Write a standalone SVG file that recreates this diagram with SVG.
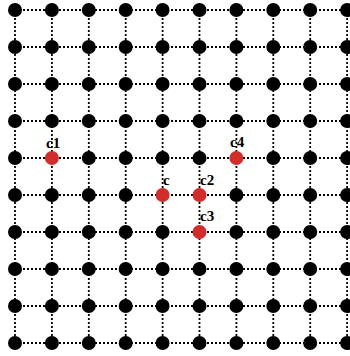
<svg xmlns="http://www.w3.org/2000/svg" width="350" height="356" viewBox="0 0 350 356">
<style>
.e{stroke:#000;stroke-width:1.8;stroke-dasharray:2 2;fill:none}
.d{fill:#000}
.r{fill:#d42b2b}
.t{font-family:"Liberation Serif","DejaVu Serif",serif;font-weight:bold;font-size:15px;fill:#000}
</style>
<rect width="350" height="356" fill="#fff"/>
<g id="connectors">
<line class="e" x1="15" y1="10" x2="350" y2="10"/>
<line class="e" x1="15" y1="47" x2="350" y2="47"/>
<line class="e" x1="15" y1="84" x2="350" y2="84"/>
<line class="e" x1="15" y1="121" x2="350" y2="121"/>
<line class="e" x1="15" y1="158" x2="350" y2="158"/>
<line class="e" x1="15" y1="195" x2="350" y2="195"/>
<line class="e" x1="15" y1="232" x2="350" y2="232"/>
<line class="e" x1="15" y1="269" x2="350" y2="269"/>
<line class="e" x1="15" y1="306" x2="350" y2="306"/>
<line class="e" x1="15" y1="343" x2="350" y2="343"/>
<line class="e" x1="15" y1="10" x2="15" y2="343"/>
<line class="e" x1="51.9" y1="10" x2="51.9" y2="343"/>
<line class="e" x1="88.8" y1="10" x2="88.8" y2="343"/>
<line class="e" x1="125.7" y1="10" x2="125.7" y2="343"/>
<line class="e" x1="162.6" y1="10" x2="162.6" y2="343"/>
<line class="e" x1="199.5" y1="10" x2="199.5" y2="343"/>
<line class="e" x1="236.4" y1="10" x2="236.4" y2="343"/>
<line class="e" x1="273.3" y1="10" x2="273.3" y2="343"/>
<line class="e" x1="310.2" y1="10" x2="310.2" y2="343"/>
<line class="e" x1="347.1" y1="10" x2="347.1" y2="343"/>
</g>
<g id="nodes">
<g id="n0-0"><circle class="d" cx="15" cy="10" r="7"/></g>
<g id="n0-1"><circle class="d" cx="51.9" cy="10" r="7"/></g>
<g id="n0-2"><circle class="d" cx="88.8" cy="10" r="7"/></g>
<g id="n0-3"><circle class="d" cx="125.7" cy="10" r="7"/></g>
<g id="n0-4"><circle class="d" cx="162.6" cy="10" r="7"/></g>
<g id="n0-5"><circle class="d" cx="199.5" cy="10" r="7"/></g>
<g id="n0-6"><circle class="d" cx="236.4" cy="10" r="7"/></g>
<g id="n0-7"><circle class="d" cx="273.3" cy="10" r="7"/></g>
<g id="n0-8"><circle class="d" cx="310.2" cy="10" r="7"/></g>
<g id="n0-9"><circle class="d" cx="347.1" cy="10" r="7"/></g>
<g id="n1-0"><circle class="d" cx="15" cy="47" r="7"/></g>
<g id="n1-1"><circle class="d" cx="51.9" cy="47" r="7"/></g>
<g id="n1-2"><circle class="d" cx="88.8" cy="47" r="7"/></g>
<g id="n1-3"><circle class="d" cx="125.7" cy="47" r="7"/></g>
<g id="n1-4"><circle class="d" cx="162.6" cy="47" r="7"/></g>
<g id="n1-5"><circle class="d" cx="199.5" cy="47" r="7"/></g>
<g id="n1-6"><circle class="d" cx="236.4" cy="47" r="7"/></g>
<g id="n1-7"><circle class="d" cx="273.3" cy="47" r="7"/></g>
<g id="n1-8"><circle class="d" cx="310.2" cy="47" r="7"/></g>
<g id="n1-9"><circle class="d" cx="347.1" cy="47" r="7"/></g>
<g id="n2-0"><circle class="d" cx="15" cy="84" r="7"/></g>
<g id="n2-1"><circle class="d" cx="51.9" cy="84" r="7"/></g>
<g id="n2-2"><circle class="d" cx="88.8" cy="84" r="7"/></g>
<g id="n2-3"><circle class="d" cx="125.7" cy="84" r="7"/></g>
<g id="n2-4"><circle class="d" cx="162.6" cy="84" r="7"/></g>
<g id="n2-5"><circle class="d" cx="199.5" cy="84" r="7"/></g>
<g id="n2-6"><circle class="d" cx="236.4" cy="84" r="7"/></g>
<g id="n2-7"><circle class="d" cx="273.3" cy="84" r="7"/></g>
<g id="n2-8"><circle class="d" cx="310.2" cy="84" r="7"/></g>
<g id="n2-9"><circle class="d" cx="347.1" cy="84" r="7"/></g>
<g id="n3-0"><circle class="d" cx="15" cy="121" r="7"/></g>
<g id="n3-1"><circle class="d" cx="51.9" cy="121" r="7"/></g>
<g id="n3-2"><circle class="d" cx="88.8" cy="121" r="7"/></g>
<g id="n3-3"><circle class="d" cx="125.7" cy="121" r="7"/></g>
<g id="n3-4"><circle class="d" cx="162.6" cy="121" r="7"/></g>
<g id="n3-5"><circle class="d" cx="199.5" cy="121" r="7"/></g>
<g id="n3-6"><circle class="d" cx="236.4" cy="121" r="7"/></g>
<g id="n3-7"><circle class="d" cx="273.3" cy="121" r="7"/></g>
<g id="n3-8"><circle class="d" cx="310.2" cy="121" r="7"/></g>
<g id="n3-9"><circle class="d" cx="347.1" cy="121" r="7"/></g>
<g id="n4-0"><circle class="d" cx="15" cy="158" r="7"/></g>
<g id="c1"><circle class="r" cx="51.9" cy="158" r="7"/><text class="t" x="46" y="148">c1</text></g>
<g id="n4-2"><circle class="d" cx="88.8" cy="158" r="7"/></g>
<g id="n4-3"><circle class="d" cx="125.7" cy="158" r="7"/></g>
<g id="n4-4"><circle class="d" cx="162.6" cy="158" r="7"/></g>
<g id="n4-5"><circle class="d" cx="199.5" cy="158" r="7"/></g>
<g id="c4"><circle class="r" cx="236.4" cy="158" r="7"/><text class="t" x="230" y="147">c4</text></g>
<g id="n4-7"><circle class="d" cx="273.3" cy="158" r="7"/></g>
<g id="n4-8"><circle class="d" cx="310.2" cy="158" r="7"/></g>
<g id="n4-9"><circle class="d" cx="347.1" cy="158" r="7"/></g>
<g id="n5-0"><circle class="d" cx="15" cy="195" r="7"/></g>
<g id="n5-1"><circle class="d" cx="51.9" cy="195" r="7"/></g>
<g id="n5-2"><circle class="d" cx="88.8" cy="195" r="7"/></g>
<g id="n5-3"><circle class="d" cx="125.7" cy="195" r="7"/></g>
<g id="c"><circle class="r" cx="162.6" cy="195" r="7"/><text class="t" x="163" y="185">c</text></g>
<g id="c2"><circle class="r" cx="199.5" cy="195" r="7"/><text class="t" x="200" y="185">c2</text></g>
<g id="n5-6"><circle class="d" cx="236.4" cy="195" r="7"/></g>
<g id="n5-7"><circle class="d" cx="273.3" cy="195" r="7"/></g>
<g id="n5-8"><circle class="d" cx="310.2" cy="195" r="7"/></g>
<g id="n5-9"><circle class="d" cx="347.1" cy="195" r="7"/></g>
<g id="n6-0"><circle class="d" cx="15" cy="232" r="7"/></g>
<g id="n6-1"><circle class="d" cx="51.9" cy="232" r="7"/></g>
<g id="n6-2"><circle class="d" cx="88.8" cy="232" r="7"/></g>
<g id="n6-3"><circle class="d" cx="125.7" cy="232" r="7"/></g>
<g id="n6-4"><circle class="d" cx="162.6" cy="232" r="7"/></g>
<g id="c3"><circle class="r" cx="199.5" cy="232" r="7"/><text class="t" x="200" y="221">c3</text></g>
<g id="n6-6"><circle class="d" cx="236.4" cy="232" r="7"/></g>
<g id="n6-7"><circle class="d" cx="273.3" cy="232" r="7"/></g>
<g id="n6-8"><circle class="d" cx="310.2" cy="232" r="7"/></g>
<g id="n6-9"><circle class="d" cx="347.1" cy="232" r="7"/></g>
<g id="n7-0"><circle class="d" cx="15" cy="269" r="7"/></g>
<g id="n7-1"><circle class="d" cx="51.9" cy="269" r="7"/></g>
<g id="n7-2"><circle class="d" cx="88.8" cy="269" r="7"/></g>
<g id="n7-3"><circle class="d" cx="125.7" cy="269" r="7"/></g>
<g id="n7-4"><circle class="d" cx="162.6" cy="269" r="7"/></g>
<g id="n7-5"><circle class="d" cx="199.5" cy="269" r="7"/></g>
<g id="n7-6"><circle class="d" cx="236.4" cy="269" r="7"/></g>
<g id="n7-7"><circle class="d" cx="273.3" cy="269" r="7"/></g>
<g id="n7-8"><circle class="d" cx="310.2" cy="269" r="7"/></g>
<g id="n7-9"><circle class="d" cx="347.1" cy="269" r="7"/></g>
<g id="n8-0"><circle class="d" cx="15" cy="306" r="7"/></g>
<g id="n8-1"><circle class="d" cx="51.9" cy="306" r="7"/></g>
<g id="n8-2"><circle class="d" cx="88.8" cy="306" r="7"/></g>
<g id="n8-3"><circle class="d" cx="125.7" cy="306" r="7"/></g>
<g id="n8-4"><circle class="d" cx="162.6" cy="306" r="7"/></g>
<g id="n8-5"><circle class="d" cx="199.5" cy="306" r="7"/></g>
<g id="n8-6"><circle class="d" cx="236.4" cy="306" r="7"/></g>
<g id="n8-7"><circle class="d" cx="273.3" cy="306" r="7"/></g>
<g id="n8-8"><circle class="d" cx="310.2" cy="306" r="7"/></g>
<g id="n8-9"><circle class="d" cx="347.1" cy="306" r="7"/></g>
<g id="n9-0"><circle class="d" cx="15" cy="343" r="7"/></g>
<g id="n9-1"><circle class="d" cx="51.9" cy="343" r="7"/></g>
<g id="n9-2"><circle class="d" cx="88.8" cy="343" r="7"/></g>
<g id="n9-3"><circle class="d" cx="125.7" cy="343" r="7"/></g>
<g id="n9-4"><circle class="d" cx="162.6" cy="343" r="7"/></g>
<g id="n9-5"><circle class="d" cx="199.5" cy="343" r="7"/></g>
<g id="n9-6"><circle class="d" cx="236.4" cy="343" r="7"/></g>
<g id="n9-7"><circle class="d" cx="273.3" cy="343" r="7"/></g>
<g id="n9-8"><circle class="d" cx="310.2" cy="343" r="7"/></g>
<g id="n9-9"><circle class="d" cx="347.1" cy="343" r="7"/></g>
</g>
</svg>
